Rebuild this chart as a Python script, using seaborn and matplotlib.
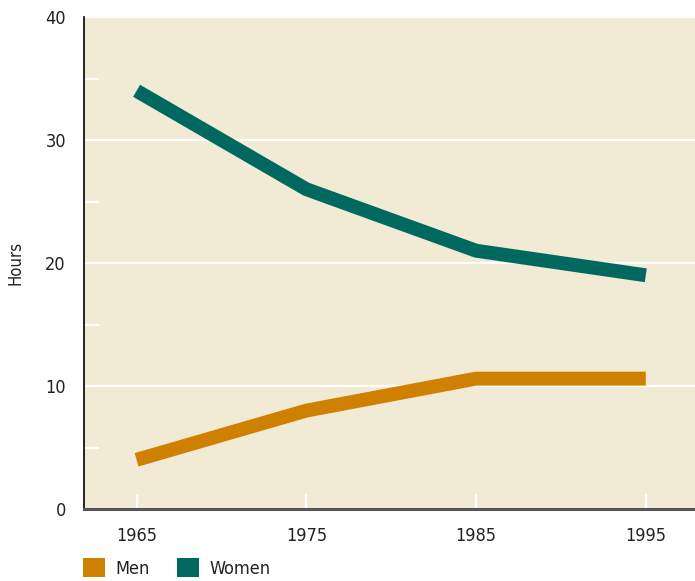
import pandas as pd
import numpy as np
import matplotlib
matplotlib.use("Agg")
import matplotlib.pyplot as plt
from matplotlib.patches import Patch
from matplotlib.ticker import MultipleLocator
import seaborn as sns

# data
years = [1965, 1975, 1985, 1995]
women_hours = [34, 26, 21, 19]
men_hours = [4, 8, 10.6, 10.6]

groups = ["Men", "Women"]
colors = {"Men": "#D08000", "Women": "#00695F"}

df = pd.DataFrame({
    "Year": years * 2,
    "Hours": men_hours + women_hours,
    "Group": ["Men"] * len(years) + ["Women"] * len(years),
})

sns.set_style("white")
plt.rcParams["font.family"] = ["Liberation Sans Narrow", "DejaVu Sans"]
plt.rcParams["font.stretch"] = "condensed"

fig = plt.figure(figsize=(6.95, 5.81), dpi=100)
ax = fig.add_axes([84 / 695, 72 / 581, 1 - 84 / 695, 492 / 581])
ax.set_facecolor("#F1EAD4")

sns.lineplot(data=df, x="Year", y="Hours", hue="Group", palette=colors,
             hue_order=groups, linewidth=10, ax=ax, legend=False)
for line in ax.get_lines():
    line.set_solid_capstyle("butt")
    line.set_solid_joinstyle("miter")

ax.set_xlim(1961.9, 1997.9)
ax.set_ylim(0, 40)
ax.set_xticks(years)
ax.yaxis.set_major_locator(MultipleLocator(10))
ax.yaxis.set_minor_locator(MultipleLocator(5))
ax.grid(axis="y", which="major", color="white", linewidth=1.6)
ax.set_axisbelow(True)

ax.tick_params(axis="x", bottom=True, direction="in", color="white", length=11,
               width=1.6, labelsize=13, pad=13, labelcolor="#222222")
ax.tick_params(axis="y", which="major", left=True, length=0, labelsize=13,
               pad=13, labelcolor="#222222")
ax.tick_params(axis="y", which="minor", left=True, direction="in",
               color="white", length=11, width=1.6)

for side in ["top", "right"]:
    ax.spines[side].set_visible(False)
ax.spines["left"].set_color("black")
ax.spines["left"].set_linewidth(1.2)
ax.spines["bottom"].set_color("#555555")
ax.spines["bottom"].set_linewidth(2.2)

ax.set_xlabel("")
ax.set_ylabel("Hours", fontsize=12, color="#222222")
ax.yaxis.set_label_coords(-60 / 611, 0.5)

handles = [Patch(facecolor=colors[g], edgecolor="none", label=g) for g in groups]
fig.legend(handles=handles, loc="lower left", bbox_to_anchor=(67 / 695, -0.022),
           ncol=2, frameon=False, fontsize=13, handlelength=1.2,
           handleheight=1.2, handletextpad=0.6, columnspacing=1.5,
           labelcolor="#222222")

fig.savefig("out.png", dpi=100)
